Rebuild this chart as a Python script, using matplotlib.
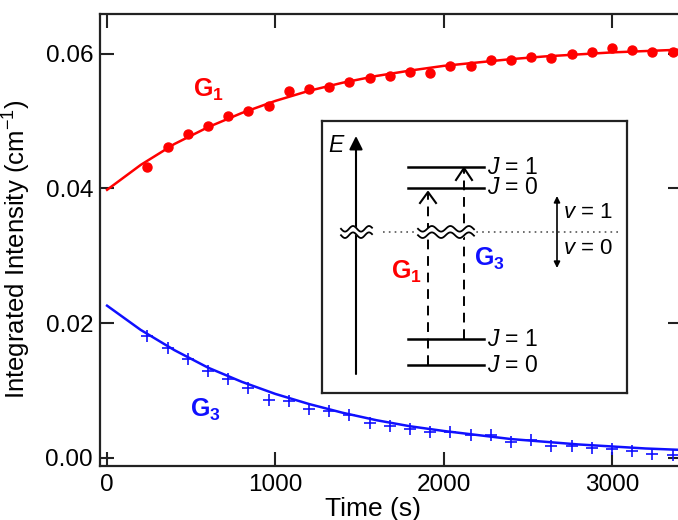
import numpy as np
import matplotlib
matplotlib.use("Agg")
import matplotlib.pyplot as plt

# fonts: Arial-like everywhere, also inside mathtext
plt.rcParams['font.family'] = ['Liberation Sans', 'DejaVu Sans']
plt.rcParams['mathtext.fontset'] = 'custom'
plt.rcParams['mathtext.rm'] = 'Liberation Sans'
plt.rcParams['mathtext.it'] = 'Liberation Sans:italic'
plt.rcParams['mathtext.bf'] = 'Liberation Sans:bold'

# measured points (time in s, integrated intensity in cm-1)
t_meas = [240, 360, 480, 600, 720, 840, 960, 1080, 1200, 1320, 1440, 1560, 1680,
          1800, 1920, 2040, 2160, 2280, 2400, 2520, 2640, 2760, 2880, 3000, 3120,
          3240, 3360]
g1_meas = [0.0432, 0.0462, 0.0481, 0.0493, 0.0507, 0.0515, 0.0523, 0.0544, 0.0548,
           0.0551, 0.0558, 0.0564, 0.0567, 0.0573, 0.0572, 0.0582, 0.0582, 0.0590,
           0.0590, 0.0595, 0.0594, 0.0599, 0.0603, 0.0608, 0.0605, 0.0603, 0.0602]
g3_meas = [0.0181, 0.0163, 0.0147, 0.0129, 0.0117, 0.0104, 0.0086, 0.0085, 0.0073,
           0.0069, 0.0064, 0.0052, 0.0047, 0.0043, 0.0039, 0.0039, 0.0034, 0.0034,
           0.0024, 0.0027, 0.0018, 0.0017, 0.0014, 0.0013, 0.0010, 0.0006, 0.0005]

# fitted curves
t_fit = [0, 200, 400, 600, 800, 1000, 1200, 1400, 1600, 1800, 2000, 2200, 2400,
         2600, 2800, 3000, 3200, 3400]
g1_fit = [0.0398, 0.0435, 0.0466, 0.0491, 0.0512, 0.0530, 0.0545, 0.0557, 0.0567,
          0.0575, 0.0582, 0.0587, 0.0592, 0.0596, 0.0599, 0.0602, 0.0604, 0.0606]
g3_fit = [0.0226, 0.0190, 0.0160, 0.0134, 0.0113, 0.0095, 0.0080, 0.0067, 0.0056,
          0.0047, 0.0040, 0.0034, 0.0028, 0.0024, 0.0020, 0.0017, 0.0014, 0.0012]

x_ticks = [0, 1000, 2000, 3000]
y_ticks = [0.00, 0.02, 0.04, 0.06]

RED = '#ff0000'
BLUE = '#1010ff'
W, H = 678, 520

fig = plt.figure(figsize=(W / 100, H / 100), dpi=100)

# main axes, right spine sits just outside the picture (cropped figure)
ax = fig.add_axes([100 / W, 54 / H, 582 / W, 452 / H])
ax.plot(t_fit, g1_fit, color=RED, lw=1.8)
ax.plot(t_meas, g1_meas, 'o', color=RED, ms=6.5, mec=RED)
ax.plot(t_fit, g3_fit, color=BLUE, lw=1.8)
ax.plot(t_meas, g3_meas, '+', color=BLUE, ms=8, mew=1.2)

ax.set_xlim(-42, 3416)
ax.set_ylim(-0.0012, 0.0659)
ax.set_xticks(x_ticks)
ax.set_yticks(y_ticks)
ax.set_yticklabels(['%.2f' % v for v in y_ticks])
ax.tick_params(direction='in', top=True, right=True, length=10, width=1.5,
               labelsize=17.5, color='#222222')
ax.tick_params(axis='y', pad=5)
ax.tick_params(axis='x', pad=6)
for s in ax.spines.values():
    s.set_linewidth(1.6)
    s.set_color('#222222')

ax.set_xlabel('Time (s)', fontsize=19)
ax.xaxis.set_label_coords(0.469, -0.069)
ax.set_ylabel('Integrated Intensity (cm$^{-1}$)', fontsize=18.5)
ax.yaxis.set_label_coords(-0.115, 0.48)

# curve labels
ax.text(0.16, 0.832, r'$\mathbf{G_1}$', color=RED, fontsize=18,
        transform=ax.transAxes, ha='left', va='center')
ax.text(0.155, 0.125, r'$\mathbf{G_3}$', color=BLUE, fontsize=18,
        transform=ax.transAxes, ha='left', va='center')

# ---------------------------------------------------------------
# inset energy level diagram, drawn in pixel coordinates
# ---------------------------------------------------------------
x0, x1, y0, y1 = 322, 627, 121, 393
ins = fig.add_axes([x0 / W, (H - y1) / H, (x1 - x0) / W, (y1 - y0) / H])
ins.set_xlim(x0, x1)
ins.set_ylim(y1, y0)
ins.set_xticks([])
ins.set_yticks([])
for s in ins.spines.values():
    s.set_linewidth(1.6)
    s.set_color('#222222')

# energy axis
ins.annotate('', xy=(356, 136), xytext=(356, 374),
             arrowprops=dict(arrowstyle='-|>', lw=1.5, color='k',
                             mutation_scale=20, shrinkA=0, shrinkB=0))
ins.text(336, 146, 'E', fontsize=16.5, style='italic', ha='center', va='center')

# rotational levels
for yl in [167, 188, 339, 365]:
    ins.plot([408, 484], [yl, yl], color='k', lw=1.8)
ins.text(487, 167, '$J$ = 1', fontsize=16.5, va='center')
ins.text(487, 188, '$J$ = 0', fontsize=16.5, va='center')
ins.text(487, 339, '$J$ = 1', fontsize=16.5, va='center')
ins.text(487, 365, '$J$ = 0', fontsize=16.5, va='center')

# transitions (dashed) with open heads
ins.plot([428, 428], [365, 193], color='k', lw=1.4, ls=(0, (5, 3.5)))
ins.plot([420, 428, 436], [203, 192, 203], color='k', lw=1.5)
ins.plot([464, 464], [339, 169], color='k', lw=1.4, ls=(0, (5, 3.5)))
ins.plot([456, 464, 472], [180, 168, 180], color='k', lw=1.5)

# v = 0 / v = 1 divider
ins.plot([383, 622], [232, 232], color='#555555', lw=1.2, ls=(0, (1, 2.5)))
ins.annotate('', xy=(557, 196), xytext=(557, 268),
             arrowprops=dict(arrowstyle='<|-|>', lw=1.2, color='k',
                             mutation_scale=9, shrinkA=0, shrinkB=0))
ins.text(563, 212, '$v$ = 1', fontsize=16, va='center')
ins.text(563, 248, '$v$ = 0', fontsize=16, va='center')


def breakmark(xa, xb, yc, period, amp=2.8, gap=3.2):
    # axis break symbol: two parallel waves with white between them
    xs = np.linspace(xa, xb, 80)
    wave = amp * np.sin(2 * np.pi * (xs - xa) / period)
    ins.fill_between(xs, yc - gap + wave, yc + gap + wave, color='white', zorder=3)
    ins.plot(xs, yc - gap + wave, color='k', lw=1.3, zorder=4)
    ins.plot(xs, yc + gap + wave, color='k', lw=1.3, zorder=4)


breakmark(341, 372, 232, 16)
breakmark(418, 474, 232, 18.5)

ins.text(391, 272, r'$\mathbf{G_1}$', color=RED, fontsize=18, va='center')
ins.text(474, 259, r'$\mathbf{G_3}$', color=BLUE, fontsize=18, va='center')

fig.savefig('out.png', dpi=100)
